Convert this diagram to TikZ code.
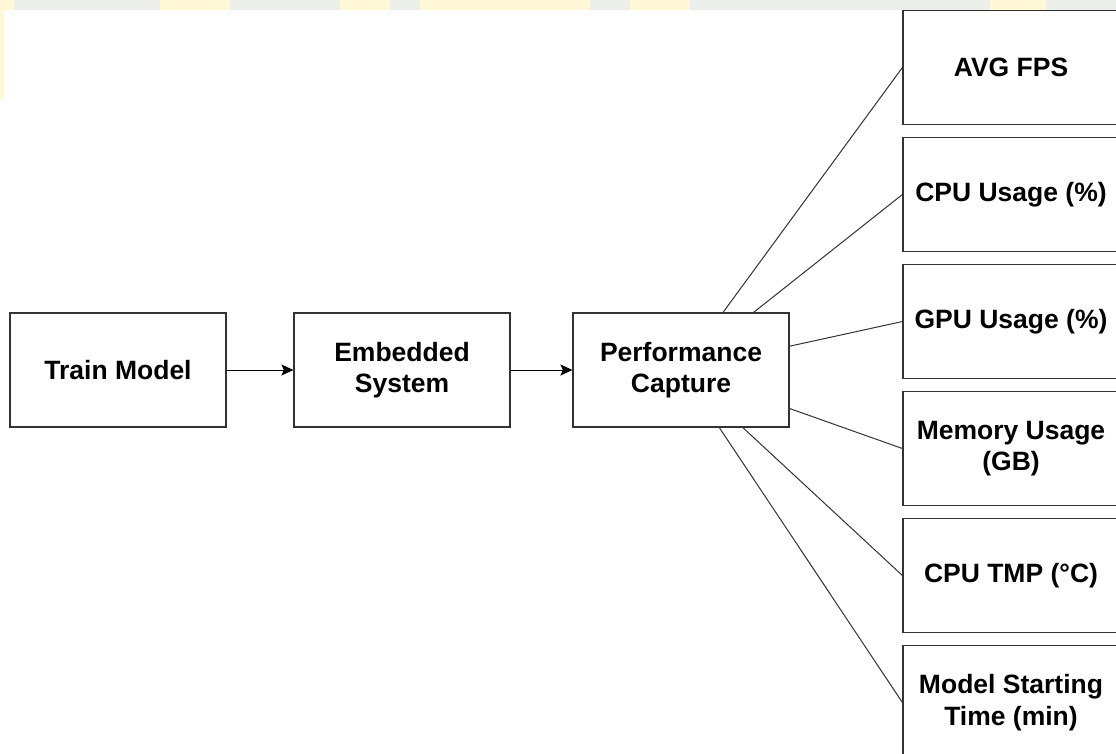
\documentclass[tikz,border=0pt]{standalone}
\usepackage{fontspec}
\setmainfont{Liberation Sans}
\usetikzlibrary{arrows.meta}
\definecolor{edge}{HTML}{333333}
\definecolor{wmgrey}{HTML}{ECEEEC}
\definecolor{wmyellow}{HTML}{FFF7D6}
\tikzset{
  box/.style={draw=edge, line width=1.2pt, fill=white, minimum width=216pt, minimum height=114pt,
    inner sep=0pt, align=center, font=\fontsize{26.5}{31.7}\selectfont\bfseries},
  flow/.style={draw=black, line width=1pt, -{Stealth[length=12pt,width=11pt,inset=2.5pt]}},
  link/.style={draw=edge, line width=1pt}
}
\begin{document}
\begin{tikzpicture}[x=1pt,y=-1pt]
\useasboundingbox (0,0) rectangle (1116,753);
\clip (0,0) rectangle (1116,753);
\fill[white] (0,0) rectangle (1116,753);
% faint watermark band at the top
\fill[wmgrey] (0,0) rectangle (1116,10);
\fill[wmyellow] (0,0) rectangle (14,10);
\fill[wmyellow] (160,0) rectangle (230,10);
\fill[wmyellow] (340,0) rectangle (390,10);
\fill[wmyellow] (420,0) rectangle (590,10);
\fill[wmyellow] (630,0) rectangle (690,10);
\fill[wmyellow] (990,0) rectangle (1046,10);
\fill[wmyellow] (0,10) rectangle (4,100);

\node[box] (train) at (118,370) {Train Model};
\node[box] (emb) at (402,370) {Embedded\\System};
\node[box] (perf) at (681,370) {Performance\\Capture};

\node[box] (fps) at (1011,67.5) {AVG FPS};
\node[box] (cpu) at (1011,194.5) {CPU Usage (\%)};
\node[box] (gpu) at (1011,321.5) {GPU Usage (\%)};
\node[box] (mem) at (1011,448.5) {Memory Usage\\(GB)};
\node[box] (tmp) at (1011,575.5) {CPU TMP (°C)};
\node[box] (start) at (1011,702.5) {Model Starting\\Time (min)};

\draw[flow] (train) -- (emb);
\draw[flow] (emb) -- (perf);

\draw[link] (perf) -- (fps.west);
\draw[link] (perf) -- (cpu.west);
\draw[link] (perf) -- (gpu.west);
\draw[link] (perf) -- (mem.west);
\draw[link] (perf) -- (tmp.west);
\draw[link] (perf) -- (start.west);
\end{tikzpicture}
\end{document}
